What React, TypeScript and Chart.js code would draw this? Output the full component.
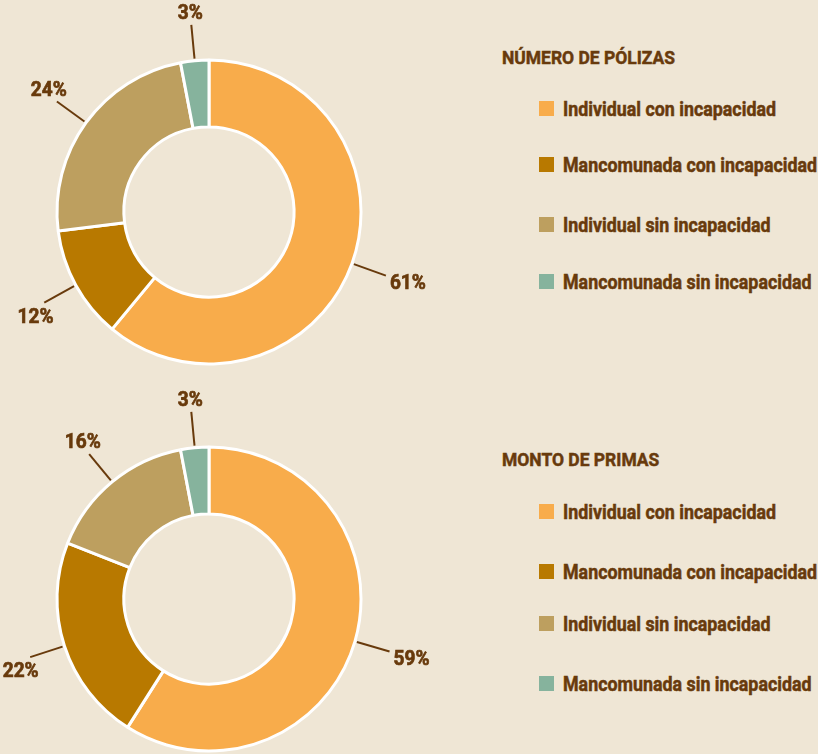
import React, { useEffect, useRef } from "react";
import { Chart, registerables } from "chart.js";

Chart.register(...registerables);

const CATEGORIES = [
  "Individual con incapacidad",
  "Mancomunada con incapacidad",
  "Individual sin incapacidad",
  "Mancomunada sin incapacidad",
];
const POLIZAS_VALUES = [61, 12, 24, 3];
const PRIMAS_VALUES = [59, 22, 16, 3];
const SEGMENT_COLORS = ["#F8AC4B", "#B87900", "#BD9F5F", "#86B39D"];
const TITLES = ["NÚMERO DE PÓLIZAS", "MONTO DE PRIMAS"];

const BG = "#EFE6D5";
const TEXT = "#683A0C";
const FONT = "Roboto, 'DejaVu Sans', sans-serif";

const R = 152;
const BW = 3;

// horizontal condensing factors so that the wide font matches the condensed original
function measure(txt: string, font: string) {
  const c = document.createElement("canvas").getContext("2d") as CanvasRenderingContext2D;
  c.font = font;
  return c.measureText(txt).width;
}
let SCALES: any = null;
function getScales() {
  if (!SCALES) {
    SCALES = {
      title: 173 / measure("NÚMERO DE PÓLIZAS", `bold 19px ${FONT}`),
      item: 213 / measure("Individual con incapacidad", `bold 20px ${FONT}`),
      label: 36 / measure("61%", `bold 21px ${FONT}`),
    };
  }
  return SCALES;
}

const labelPlugin = {
  id: "outerLabels",
  afterDatasetsDraw(chart: any) {
    const ctx = chart.ctx;
    const meta = chart.getDatasetMeta(0);
    const data = chart.data.datasets[0].data;
    const s = getScales().label;
    ctx.save();
    ctx.strokeStyle = TEXT;
    ctx.fillStyle = TEXT;
    ctx.font = `bold 21px ${FONT}`;
    ctx.textBaseline = "middle";
    meta.data.forEach((arc: any, i: number) => {
      const p = arc.getProps(["x", "y", "startAngle", "endAngle", "outerRadius"], true);
      const mid = (p.startAngle + p.endAngle) / 2;
      const ux = Math.cos(mid);
      const uy = Math.sin(mid);
      const r0 = p.outerRadius + 2;
      const r1 = p.outerRadius + 36;
      const x0 = p.x + ux * r0, y0 = p.y + uy * r0;
      const x1 = p.x + ux * r1, y1 = p.y + uy * r1;
      ctx.lineWidth = 2;
      ctx.beginPath();
      ctx.moveTo(x0, y0);
      ctx.lineTo(x1, y1);
      ctx.stroke();
      const txt = `${data[i]}%`;
      let tx: number, ty: number;
      if (ux > 0.9) {
        ctx.textAlign = "left";
        tx = x1 + 4;
        ty = y1 + 8;
      } else {
        ctx.textAlign = "center";
        tx = x1 + ux * 10;
        ty = uy < 0 ? y1 - 11 : y1 + 15;
      }
      ctx.save();
      ctx.translate(tx, ty);
      ctx.scale(s, 1);
      ctx.fillText(txt, 0, 0);
      ctx.lineWidth = 0.7;
      ctx.strokeText(txt, 0, 0);
      ctx.restore();
    });
    ctx.restore();
  },
};

function Donut({ values, top, width, height, cx, cy }: any) {
  const ref = useRef<HTMLCanvasElement | null>(null);
  useEffect(() => {
    if (!ref.current) return;
    const half = R + BW / 2;
    const chart = new Chart(ref.current, {
      type: "doughnut",
      data: {
        labels: CATEGORIES,
        datasets: [
          {
            data: values,
            backgroundColor: SEGMENT_COLORS,
            borderColor: "#FFFFFF",
            borderWidth: BW,
            hoverOffset: 0,
          },
        ],
      },
      options: {
        responsive: false,
        animation: false,
        cutout: "56%",
        layout: {
          padding: {
            left: cx - half,
            right: width - cx - half,
            top: cy - half,
            bottom: height - cy - half,
          },
        },
        plugins: {
          legend: { display: false },
          tooltip: { enabled: false },
        },
      },
      plugins: [labelPlugin],
    });
    return () => chart.destroy();
  }, [values, width, height, cx, cy]);
  return (
    <canvas
      ref={ref}
      width={width}
      height={height}
      style={{ position: "absolute", left: 0, top, width, height }}
    />
  );
}

function Legend({ title, titleCenter, itemCenters }: any) {
  const sc = getScales();
  return (
    <>
      <div
        style={{
          position: "absolute",
          left: 502,
          top: titleCenter - 9.5,
          fontFamily: FONT,
          fontWeight: "bold",
          fontSize: 19,
          lineHeight: "19px",
          color: TEXT,
          whiteSpace: "nowrap",
          WebkitTextStroke: `0.5px ${TEXT}`,
          transform: `scaleX(${sc.title})`,
          transformOrigin: "left center",
        } as any}
      >
        {title}
      </div>
      {CATEGORIES.map((c, i) => (
        <React.Fragment key={c}>
          <div
            style={{
              position: "absolute",
              left: 539,
              top: itemCenters[i] - 7.5,
              width: 15,
              height: 15,
              background: SEGMENT_COLORS[i],
            }}
          />
          <div
            style={{
              position: "absolute",
              left: 563,
              top: itemCenters[i] - 10,
              fontFamily: FONT,
              fontWeight: "bold",
              fontSize: 20,
              lineHeight: "20px",
              color: TEXT,
              whiteSpace: "nowrap",
              WebkitTextStroke: `0.5px ${TEXT}`,
              transform: `scaleX(${sc.item})`,
              transformOrigin: "left center",
            } as any}
          >
            {c}
          </div>
        </React.Fragment>
      ))}
    </>
  );
}

export default function App() {
  return (
    <div
      style={{
        position: "fixed",
        left: 0,
        top: 0,
        width: 818,
        height: 754,
        background: BG,
        overflow: "hidden",
      }}
    >
      <Donut values={POLIZAS_VALUES} top={0} width={470} height={385} cx={209} cy={212} />
      <Donut values={PRIMAS_VALUES} top={386} width={470} height={368} cx={209} cy={213} />
      <Legend title={TITLES[0]} titleCenter={57.5} itemCenters={[108.5, 164.5, 224.5, 281.5]} />
      <Legend title={TITLES[1]} titleCenter={459} itemCenters={[511.5, 571.5, 623.5, 683.5]} />
    </div>
  );
}
